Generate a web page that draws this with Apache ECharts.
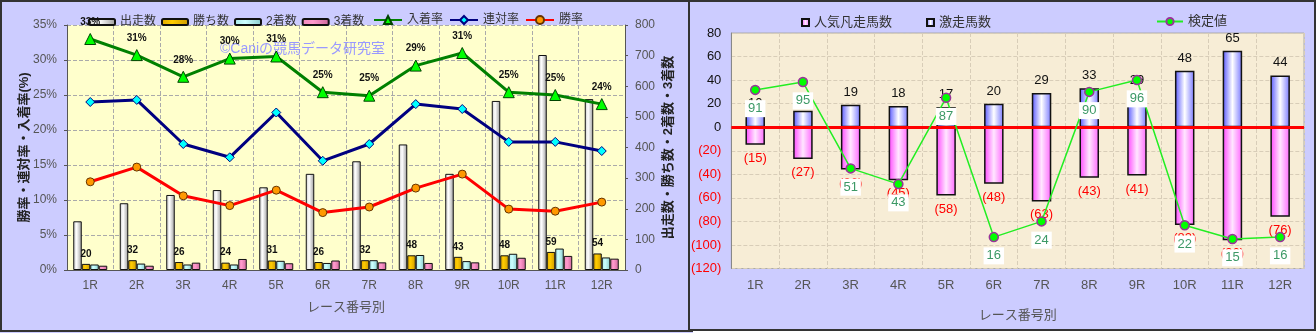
<!DOCTYPE html>
<html><head><meta charset="utf-8">
<script src="https://cdn.jsdelivr.net/npm/echarts@6/dist/echarts.min.js"></script>
<style>
html,body{margin:0;padding:0;background:#fff;overflow:hidden;}
#left{position:absolute;left:0;top:0;width:693px;height:333px;}
#right{position:absolute;left:688px;top:0;width:628px;height:331px;}
</style></head><body>
<div id="left"></div><div id="right"></div>
<script>
// ---------- data ----------
const categories = ['1R','2R','3R','4R','5R','6R','7R','8R','9R','10R','11R','12R'];
const starters = [159,218,245,261,270,314,355,410,314,552,702,558];
const wins     = [20,32,26,24,31,26,32,48,43,48,59,54];
const seconds  = [18,21,18,18,30,23,32,49,29,53,70,41];
const thirds   = [14,14,24,36,22,31,25,23,25,40,46,37];
const placeRate    = [33.0,30.7,27.6,30.2,30.5,25.4,24.9,29.2,31.0,25.4,25.0,23.7];
const quinellaRate = [24.0,24.3,18.0,16.1,22.5,15.6,18.0,23.7,23.0,18.3,18.3,17.0];
const winRate      = [12.6,14.7,10.6,9.2,11.4,8.2,9.0,11.7,13.7,8.7,8.4,9.7];
const pctTicks   = [0,5,10,15,20,25,30,35];
const countTicks = [0,100,200,300,400,500,600,700,800];

const popularFlops = [-15,-27,-36,-45,-58,-48,-63,-43,-41,-83,-96,-76];
const longshots    = [10,14,19,18,17,20,29,33,29,48,65,44];
const testValues   = [91,95,51,43,87,16,24,90,96,22,15,16];
const rightTicks   = [-120,-100,-80,-60,-40,-20,0,20,40,60,80];
const testAxis     = [0,120];

const FONT = '"Liberation Sans","Noto Sans CJK JP",sans-serif';
function hgrad(stops){return new echarts.graphic.LinearGradient(0,0,1,0,stops.map((c,i)=>({offset:c[0],color:c[1]})));}

// ---------- left chart ----------
const left = echarts.init(document.getElementById('left'), null, {renderer:'canvas'});
const barBase = {type:'bar', yAxisIndex:1, barWidth:8.5, barGap:'0%'};
left.setOption({
  animation:false,
  backgroundColor:'#CCCCFF',
  textStyle:{fontFamily:FONT},
  legend:[
    {data:['出走数','勝ち数','2着数','3着数'], left:83, top:11, itemWidth:26, itemHeight:6, itemGap:5, icon:'roundRect',
     textStyle:{fontSize:12,color:'#333',fontFamily:FONT}},
    {data:['入着率','連対率','勝率'], left:368, top:9, itemWidth:28, itemHeight:10, itemGap:6,
     textStyle:{fontSize:12,color:'#333',fontFamily:FONT}}
  ],
  grid:{left:67,right:68,top:25,bottom:63,show:true,backgroundColor:'#FFFFCC',borderWidth:0},
  xAxis:{type:'category',data:categories,
    axisLine:{lineStyle:{color:'#555',width:1}},axisTick:{show:false},
    axisLabel:{fontSize:12,color:'#555',margin:10},
    splitLine:{show:true,lineStyle:{type:'dashed',color:'#aaa'}},
    name:'レース番号別',nameLocation:'middle',nameGap:31,nameMoveOverlap:false,nameTextStyle:{fontSize:13,color:'#555'}},
  yAxis:[
    {type:'value',position:'left',min:pctTicks[0],max:pctTicks[pctTicks.length-1],interval:pctTicks[1]-pctTicks[0],
     axisLabel:{formatter:'{value}%',fontSize:12,color:'#555',margin:10},
     axisLine:{show:true,lineStyle:{color:'#555'}},axisTick:{show:true,length:3,lineStyle:{color:'#555'}},
     splitLine:{show:true,lineStyle:{type:'dashed',color:'#aaa'}},
     name:'勝率・連対率・入着率(%)',nameLocation:'middle',nameRotate:90,nameGap:36,nameMoveOverlap:false,
     nameTextStyle:{fontSize:13,fontWeight:'bold',color:'#222'}},
    {type:'value',position:'right',min:countTicks[0],max:countTicks[countTicks.length-1],interval:countTicks[1]-countTicks[0],
     axisLabel:{fontSize:12,color:'#555',margin:10},
     axisLine:{show:true,lineStyle:{color:'#555'}},axisTick:{show:true,length:3,lineStyle:{color:'#555'}},
     splitLine:{show:false},
     name:'出走数・勝ち数・2着数・3着数',nameLocation:'middle',nameRotate:90,nameGap:37,nameMoveOverlap:false,
     nameTextStyle:{fontSize:13,fontWeight:'bold',color:'#222'}}
  ],
  graphic:[
    {type:'text',left:220,top:42,z:3,style:{text:'©Caniの競馬データ研究室',fill:'#9999FF',font:'14px '+FONT}},
    {type:'rect',z:100,shape:{x:1,y:1,width:691,height:330},style:{fill:'none',stroke:'#333',lineWidth:2},silent:true}
  ],
  series:[
    Object.assign({},barBase,{name:'出走数',data:starters,
      itemStyle:{color:hgrad([[0,'#c8c8c8'],[0.4,'#ffffff'],[1,'#9a9a9a']]),borderColor:'#111',borderWidth:1}}),
    Object.assign({},barBase,{name:'勝ち数',data:wins,
      itemStyle:{color:hgrad([[0,'#e0a800'],[0.4,'#ffcc00'],[1,'#cc9900']]),borderColor:'#111',borderWidth:1},
      label:{show:true,position:'top',distance:5,fontSize:10,fontWeight:'bold',color:'#111'}}),
    Object.assign({},barBase,{name:'2着数',data:seconds,
      itemStyle:{color:hgrad([[0,'#a8e8e8'],[0.4,'#ccffff'],[1,'#88cccc']]),borderColor:'#111',borderWidth:1}}),
    Object.assign({},barBase,{name:'3着数',data:thirds,
      itemStyle:{color:hgrad([[0,'#ee88bb'],[0.4,'#ff99cc'],[1,'#cc6699']]),borderColor:'#111',borderWidth:1}}),
    {name:'入着率',type:'line',yAxisIndex:0,data:placeRate,z:5,
     lineStyle:{color:'#008000',width:3},symbol:'triangle',symbolSize:11,
     itemStyle:{color:'#00FF00',borderColor:'#004400',borderWidth:1},
     label:{show:true,position:'top',distance:6,fontSize:10,fontWeight:'bold',color:'#111',
       formatter:p=>Math.round(p.value)+'%'}},
    {name:'連対率',type:'line',yAxisIndex:0,data:quinellaRate,z:5,
     lineStyle:{color:'#000080',width:3},symbol:'diamond',symbolSize:9,
     itemStyle:{color:'#00FFFF',borderColor:'#000080',borderWidth:1}},
    {name:'勝率',type:'line',yAxisIndex:0,data:winRate,z:5,
     lineStyle:{color:'#FF0000',width:3},symbol:'circle',symbolSize:8,
     itemStyle:{color:'#FF9900',borderColor:'#663300',borderWidth:1}}
  ]
});

// ---------- right chart ----------
const right = echarts.init(document.getElementById('right'), null, {renderer:'canvas'});
right.setOption({
  animation:false,
  backgroundColor:'#CCCCFF',
  textStyle:{fontFamily:FONT},
  legend:[
    {data:['人気凡走馬数'],left:108,top:11,itemWidth:7,itemHeight:7,icon:'rect',textStyle:{fontSize:13,color:'#333',fontFamily:FONT}},
    {data:['激走馬数'],left:233,top:11,itemWidth:7,itemHeight:7,icon:'rect',textStyle:{fontSize:13,color:'#333',fontFamily:FONT}},
    {data:['検定値'],left:463,top:10,itemWidth:26,itemHeight:9,textStyle:{fontSize:13,color:'#333',fontFamily:FONT}}
  ],
  grid:{left:41,right:12,top:33,bottom:62.5,show:true,backgroundColor:'#F7EDD6',borderColor:'#aaa',borderWidth:1},
  xAxis:{type:'category',data:categories,
    axisLine:{lineStyle:{color:'#888'}},axisTick:{show:false},
    axisLabel:{fontSize:13,color:'#555',margin:10},
    splitLine:{show:true,lineStyle:{type:'dashed',color:'#d8cdb8'}},
    name:'レース番号別',nameLocation:'middle',nameGap:40,nameMoveOverlap:false,nameTextStyle:{fontSize:13,color:'#555'}},
  yAxis:[
    {type:'value',min:rightTicks[0],max:rightTicks[rightTicks.length-1],interval:rightTicks[1]-rightTicks[0],
     axisLabel:{fontSize:13,margin:10,formatter:v=>v<0?'('+(-v)+')':String(v),color:v=>Number(v)<0?'#FF0000':'#111'},
     axisLine:{show:true,lineStyle:{color:'#888'}},axisTick:{show:false},
     splitLine:{show:true,lineStyle:{type:'dashed',color:'#d8cdb8'}}},
    {type:'value',min:testAxis[0],max:testAxis[1],show:false,splitLine:{show:false}}
  ],
  graphic:[
    {type:'rect',z:100,shape:{x:1,y:1,width:626,height:329},style:{fill:'none',stroke:'#333',lineWidth:2},silent:true}
  ],
  series:[
    {name:'人気凡走馬数',type:'bar',data:popularFlops,barWidth:19.5,barGap:'-100%',
     itemStyle:{color:hgrad([[0,'#ff44ff'],[0.5,'#ffe6ff'],[1,'#ff66ff']]),borderColor:'#111',borderWidth:1.5},
     label:{show:true,position:'bottom',distance:7,fontSize:13,color:'#FF0000',formatter:p=>'('+(-p.value)+')'}},
    {name:'激走馬数',type:'bar',data:longshots,barWidth:19.5,barGap:'-100%',
     itemStyle:{color:hgrad([[0,'#5555ff'],[0.5,'#ffffff'],[1,'#7777ff']]),borderColor:'#111',borderWidth:1.5},
     label:{show:true,position:'top',distance:6,fontSize:13,color:'#111'},
     markLine:{silent:true,symbol:'none',label:{show:false},data:[{yAxis:0}],
       lineStyle:{color:'#FF0000',width:3,type:'solid'}}},
    {name:'検定値',type:'line',yAxisIndex:1,data:testValues,z:10,
     lineStyle:{color:'#22EE22',width:1.5},symbol:'circle',symbolSize:9,
     itemStyle:{color:'#00FF00',borderColor:'#993399',borderWidth:1.5},
     label:{show:true,position:'bottom',distance:5,fontSize:13,color:'#3C9966',backgroundColor:'#ffffff',padding:[2,3]}}
  ]
});
</script>
</body></html>
